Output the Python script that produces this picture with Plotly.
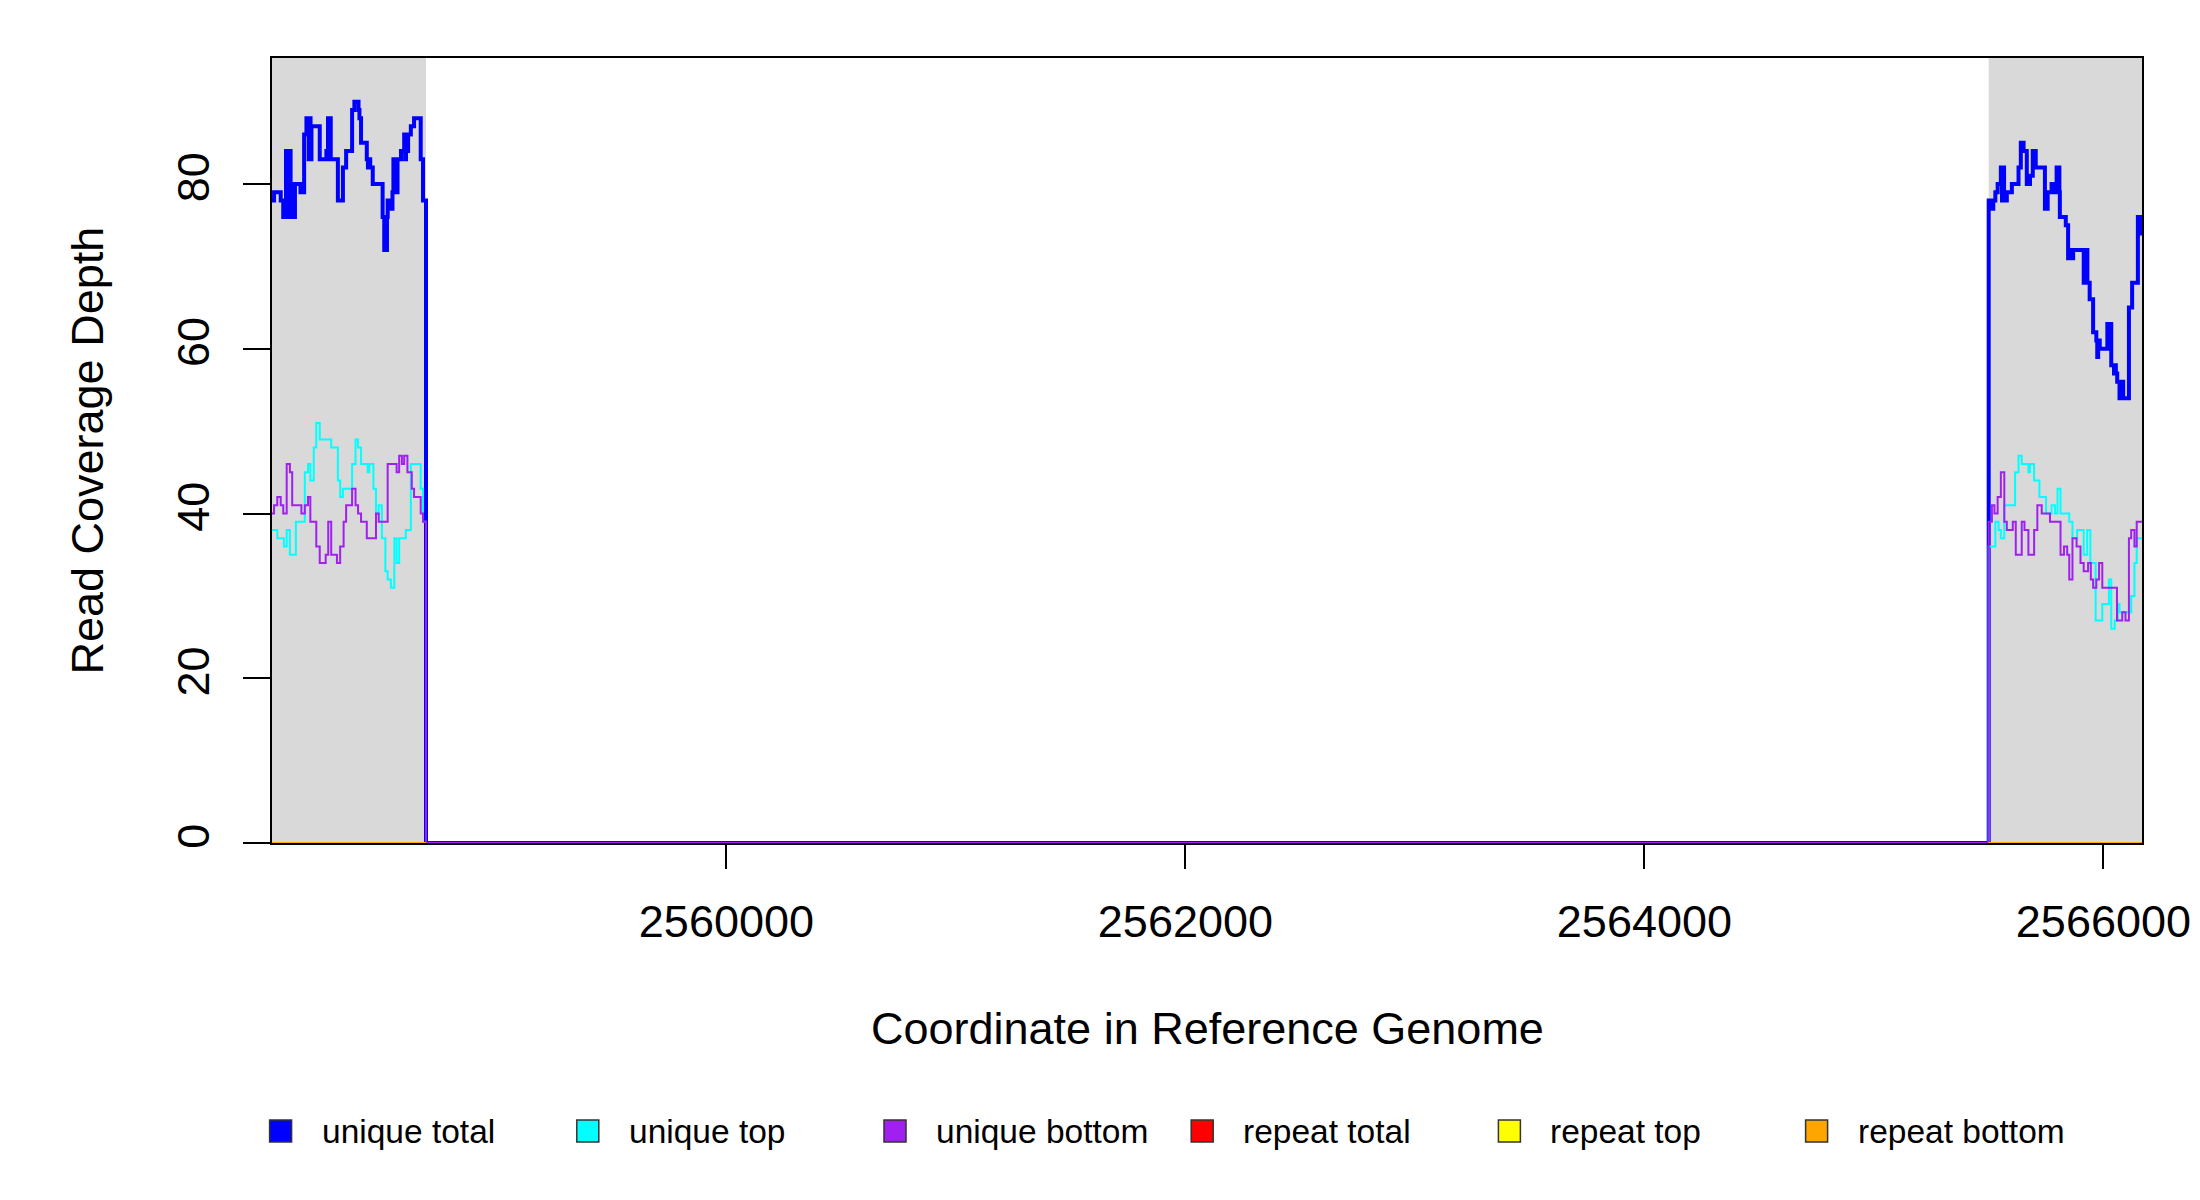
import plotly.graph_objects as go

# ---------------- data ----------------
x_range = [2558020, 2566168]
y_range = [0, 95.3]
flank_regions = [[2558020, 2558691], [2565500, 2566168]]
x_ticks = [2560000, 2562000, 2564000, 2566000]
y_ticks = [0, 20, 40, 60, 80]

# unique total (step starts, value holds until next x)
ut_x = [2558020, 2558029, 2558058, 2558069, 2558081, 2558085, 2558089, 2558093, 2558097,
        2558101, 2558106, 2558111, 2558115, 2558120, 2558144, 2558160, 2558170, 2558180,
        2558184, 2558188, 2558192, 2558228, 2558257, 2558264, 2558268, 2558272, 2558276,
        2558307, 2558329, 2558343, 2558369, 2558379, 2558397, 2558401, 2558408, 2558433,
        2558438, 2558443, 2558448, 2558459, 2558502, 2558509, 2558513, 2558517, 2558521,
        2558524, 2558530, 2558535, 2558540, 2558545, 2558549, 2558553, 2558557, 2558561,
        2558567, 2558582, 2558596, 2558600, 2558604, 2558609, 2558613, 2558625, 2558639,
        2558668, 2558678, 2558691,
        2565500, 2565505, 2565510, 2565515, 2565520, 2565529, 2565539, 2565553, 2565558,
        2565563, 2565567, 2565579, 2565601, 2565630, 2565640, 2565652, 2565666, 2565670,
        2565674, 2565680, 2565692, 2565696, 2565700, 2565705, 2565712, 2565745, 2565749,
        2565753, 2565757, 2565760, 2565774, 2565779, 2565783, 2565796, 2565800, 2565804,
        2565808, 2565810, 2565836, 2565846, 2565850, 2565854, 2565868, 2565914, 2565918,
        2565922, 2565926, 2565930, 2565940, 2565955, 2565969, 2565973, 2565977, 2565984,
        2566017, 2566021, 2566025, 2566034, 2566046, 2566050, 2566054, 2566060, 2566070,
        2566074, 2566078, 2566082, 2566086, 2566111, 2566125, 2566150, 2566154, 2566158,
        2566162, 2566168]
ut_y = [78, 79, 78, 76, 84, 76, 84, 76, 84,
        80, 76, 80, 76, 80, 79, 86, 88, 83,
        88, 83, 87, 83, 84, 88, 83, 88, 83,
        78, 82, 84, 89, 90, 89, 88, 85, 83,
        82, 83, 82, 80, 76, 72, 76, 72, 76,
        78, 77, 78, 77, 79, 83, 79, 83, 79,
        83, 84, 86, 83, 86, 84, 86, 87, 88,
        83, 78, 0,
        78, 77, 78, 77, 78, 79, 80, 82, 78,
        82, 78, 79, 80, 82, 85, 84, 80, 81,
        80, 81, 84, 82, 84, 82, 82, 77, 79,
        77, 79, 79, 80, 79, 80, 82, 79, 82,
        79, 76, 75, 71, 72, 71, 72, 68, 72,
        68, 72, 68, 66, 62, 61, 59, 61, 60,
        63, 60, 63, 58, 57, 58, 57, 56, 54,
        56, 54, 56, 54, 65, 68, 76, 74, 76,
        74, 74]

# unique top
utop_x = [2558020, 2558043, 2558072, 2558084, 2558098, 2558124, 2558163, 2558177, 2558187,
          2558202, 2558213, 2558228, 2558278, 2558307, 2558317, 2558329, 2558369, 2558384,
          2558395, 2558408, 2558437, 2558444, 2558462, 2558473, 2558485, 2558499, 2558514,
          2558524, 2558538, 2558553, 2558563, 2558574, 2558603, 2558625, 2558668, 2558678,
          2558691,
          2565500, 2565529, 2565543, 2565553, 2565568, 2565615, 2565630, 2565644, 2565673,
          2565680, 2565698, 2565721, 2565750, 2565774, 2565789, 2565800, 2565813, 2565851,
          2565865, 2565885, 2565914, 2565929, 2565943, 2565966, 2565995, 2566024, 2566034,
          2566049, 2566063, 2566070, 2566121, 2566135, 2566145, 2566168]
utop_y = [38, 37, 36, 38, 35, 39, 45, 46, 44,
          48, 51, 49, 48, 44, 42, 43, 46, 49,
          48, 46, 45, 46, 43, 40, 41, 37, 33,
          32, 31, 37, 34, 37, 38, 46, 43, 39,
          0,
          36, 39, 38, 37, 41, 45, 47, 46, 45,
          46, 44, 42, 40, 41, 40, 43, 40, 39,
          37, 38, 35, 38, 34, 27, 29, 32, 26,
          27, 29, 28, 30, 34, 37, 37]

# unique bottom
ubot_x = [2558020, 2558029, 2558043, 2558058, 2558069, 2558084, 2558098, 2558108, 2558148,
          2558163, 2558177, 2558187, 2558213, 2558228, 2558254, 2558265, 2558278, 2558303,
          2558317, 2558332, 2558343, 2558369, 2558384, 2558395, 2558408, 2558433, 2558473,
          2558485, 2558524, 2558563, 2558574, 2558586, 2558596, 2558610, 2558629, 2558639,
          2558668, 2558678, 2558691,
          2565500, 2565514, 2565525, 2565539, 2565553, 2565568, 2565579, 2565605, 2565618,
          2565644, 2565656, 2565673, 2565698, 2565712, 2565731, 2565767, 2565813, 2565828,
          2565842, 2565851, 2565865, 2565883, 2565900, 2565914, 2565933, 2565945, 2565955,
          2565969, 2565981, 2565995, 2566059, 2566082, 2566096, 2566111, 2566121, 2566135,
          2566145, 2566168]
ubot_y = [40, 41, 42, 41, 40, 46, 45, 41, 40,
          41, 42, 39, 36, 34, 35, 39, 35, 34,
          36, 39, 41, 43, 41, 40, 39, 37, 40,
          39, 46, 45, 47, 46, 47, 45, 43, 42,
          40, 39, 0,
          39, 41, 40, 42, 45, 39, 38, 39, 35,
          39, 38, 35, 38, 41, 40, 39, 35, 36,
          35, 32, 37, 36, 34, 33, 34, 32, 31,
          32, 34, 31, 27, 28, 27, 37, 38, 36,
          39, 39]

# repeat series (zero coverage in both flanks)
rep_x = [2558020, 2558691, None, 2565500, 2566168]
rep_total = [0, 0, None, 0, 0]
rep_top = [0, 0, None, 0, 0]
rep_bottom = [0, 0, None, 0, 0]

series_names = ["unique total", "unique top", "unique bottom",
                "repeat total", "repeat top", "repeat bottom"]
series_colors = ["#0000FF", "#00FFFF", "#A020F0", "#FF0000", "#FFFF00", "#FFA500"]

FONT = "Liberation Sans, Arial, sans-serif"

# plot-area geometry (pixels)
L, R, T, B = 264, 66, 50, 365
PW = 2200 - L - R
PH = 1200 - T - B

fig = go.Figure()

series = [
    (ut_x, ut_y, 4),
    (utop_x, utop_y, 2),
    (ubot_x, ubot_y, 2),
    (rep_x, rep_total, 2),
    (rep_x, rep_top, 2),
    (rep_x, rep_bottom, 2),
]
for (xs, ys, w), name, col in zip(series, series_names, series_colors):
    fig.add_trace(go.Scatter(
        x=xs, y=ys, mode="lines", line=dict(color=col, width=w, shape="hv"),
        name=name, showlegend=False, hoverinfo="skip"))

shapes = []
for x0, x1 in flank_regions:
    shapes.append(dict(type="rect", xref="x", yref="paper", x0=x0, x1=x1, y0=0, y1=1,
                       fillcolor="#D9D9D9", line=dict(width=0), layer="below"))

# legend drawn below the plot: square keys + labels
annotations = []
leg_y = -(1131 - 8 - (T + PH)) / PH
leg_step = 307.2 / PW
leg_x0 = (280.6 - 8 - L) / PW
for i, (name, col) in enumerate(zip(series_names, series_colors)):
    cx = leg_x0 + i * leg_step
    shapes.append(dict(type="rect", xref="paper", yref="paper",
                       xsizemode="pixel", ysizemode="pixel",
                       xanchor=cx, yanchor=leg_y, x0=-11, x1=11, y0=-11, y1=11,
                       fillcolor=col, line=dict(color="#333333", width=1.5)))
    annotations.append(dict(text=name, xref="paper", yref="paper",
                            x=cx + 39 / PW, y=leg_y, xanchor="left", yanchor="middle",
                            showarrow=False,
                            font=dict(family=FONT, size=33.5, color="black")))

annotations += [
    dict(text="Coordinate in Reference Genome", xref="paper", yref="paper",
         x=0.5, y=-0.2366, xanchor="center", yanchor="middle", showarrow=False,
         font=dict(family=FONT, size=45, color="black")),
    dict(text="Read Coverage Depth", xref="paper", yref="paper",
         x=-0.0989, y=0.5, xanchor="center", yanchor="middle", showarrow=False,
         textangle=-90, font=dict(family=FONT, size=45, color="black")),
]

fig.update_layout(
    width=2200, height=1200, autosize=False,
    margin=dict(l=L, r=R, t=T, b=B, pad=0),
    paper_bgcolor="white", plot_bgcolor="white",
    font=dict(family=FONT, size=45, color="black"),
    shapes=shapes,
    showlegend=False,
    annotations=annotations,
)

fig.update_xaxes(
    range=x_range, tickvals=x_ticks, ticktext=[str(v) for v in x_ticks],
    showgrid=False, zeroline=False,
    showline=True, mirror=True, linecolor="black", linewidth=1.5,
    ticks="outside", ticklen=24, tickwidth=1.5, tickcolor="black",
    ticklabelstandoff=14, tickfont=dict(family=FONT, size=45, color="black"),
)
fig.update_yaxes(
    range=y_range, tickvals=y_ticks, ticktext=[str(v) for v in y_ticks],
    showgrid=False, zeroline=False,
    showline=True, mirror=True, linecolor="black", linewidth=1.5,
    ticks="outside", ticklen=27, tickwidth=1.5, tickcolor="black",
    tickangle=-90, ticklabelstandoff=16,
    tickfont=dict(family=FONT, size=45, color="black"),
)

fig.write_html("out.html")
